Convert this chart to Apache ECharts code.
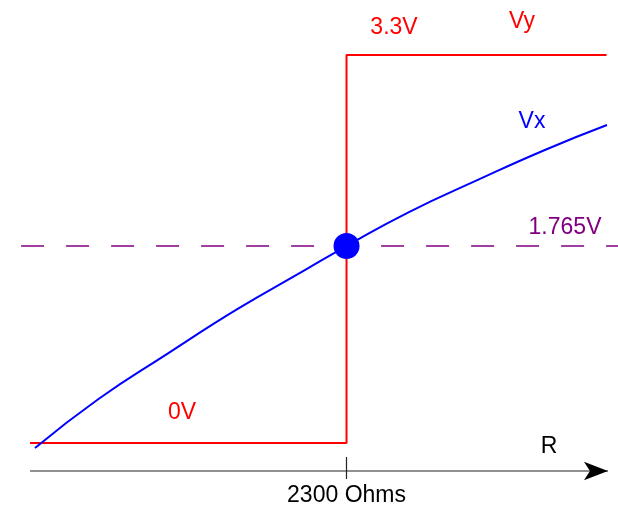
<!DOCTYPE html>
<html>
<head>
<meta charset="utf-8">
<script src="https://cdn.jsdelivr.net/npm/echarts@6/dist/echarts.min.js"></script>
<style>
  html, body { margin: 0; padding: 0; background: #fff; }
  #chart { width: 618px; height: 509px; }
</style>
</head>
<body>
<div id="chart"></div>
<script>
// resistance R (ohms) vs voltage (V)
var thresholdR = 2300;
var threshV = 1.675;
var axisV = -0.238;
var axisR = [0, 4200];

// Vy: step output
var vyR = [0, 2300, 2300, 4190];
var vyV = [0, 0, 3.3, 3.3];

// Vx: divider curve
var vxR = [36, 500, 1000, 1500, 2000, 2300, 2750, 3250, 3750, 4193];
var vxV = [-0.043, 0.376, 0.760, 1.134, 1.472, 1.675, 1.962, 2.235, 2.496, 2.704];

// dashed threshold level
var threshR = [-65, 4273];

// text labels and where they sit (data coords)
var labelText = ['3.3V', 'Vy', 'Vx', '1.765V', '0V', 'R'];
var labelR = [2645, 3575, 3648, 3888, 1105, 3772];
var labelV = [3.53, 3.58, 2.73, 1.83, 0.255, -0.03];
var labelColor = ['#ff0000', '#ff0000', '#0000ff', '#800080', '#ff0000', '#000000'];

function pairs(xs, ys) {
  return xs.map(function (x, i) { return [x, ys[i]]; });
}

var chart = echarts.init(document.getElementById('chart'));
var font = 'Liberation Sans, Arial, sans-serif';

var option = {
  animation: false,
  grid: { left: 20, right: 0, top: 0, bottom: 38 },
  xAxis: [
    {
      type: 'value',
      min: -73,
      max: 4273,
      splitLine: { show: false },
      axisLine: { show: false, onZero: false },
      axisTick: {
        show: true,
        customValues: [thresholdR],
        length: 8,
        lineStyle: { color: '#222', width: 1.2 }
      },
      axisLabel: {
        show: true,
        customValues: [thresholdR],
        formatter: function (v) { return v + ' Ohms'; },
        margin: 13,
        fontSize: 23,
        color: '#000',
        fontFamily: font
      }
    },
    {
      type: 'value',
      position: 'bottom',
      min: -73,
      max: 4273,
      splitLine: { show: false },
      axisLine: { show: false, onZero: false },
      axisLabel: { show: false },
      axisTick: {
        show: true,
        inside: true,
        customValues: [thresholdR],
        length: 14,
        lineStyle: { color: '#222', width: 1.2 }
      }
    }
  ],
  yAxis: {
    type: 'value',
    min: axisV,
    max: 3.767,
    show: false,
    splitLine: { show: false }
  },
  series: [
    {
      name: 'axis',
      type: 'line',
      clip: false,
      symbol: 'none',
      data: pairs(axisR, [axisV, axisV]),
      lineStyle: { color: '#222', width: 1.2 },
      markLine: {
        silent: true,
        symbol: ['none', 'arrow'],
        symbolSize: [14, 24],
        label: { show: false },
        lineStyle: { color: '#000', width: 0, type: 'solid' },
        itemStyle: { color: '#000' },
        data: [[{ coord: [axisR[0], axisV] }, { coord: [axisR[1], axisV] }]]
      },
      z: 1
    },
    {
      name: 'threshold',
      type: 'line',
      clip: false,
      symbol: 'none',
      data: pairs(threshR, [threshV, threshV]),
      lineStyle: { color: '#800080', width: 1.5, type: [23, 22] },
      z: 1
    },
    {
      name: 'Vy',
      type: 'line',
      symbol: 'none',
      data: pairs(vyR, vyV),
      lineStyle: { color: '#ff0000', width: 2 },
      z: 2
    },
    {
      name: 'Vx',
      type: 'line',
      symbol: 'none',
      smooth: true,
      data: pairs(vxR, vxV),
      lineStyle: { color: '#0000ff', width: 2 },
      z: 3
    },
    {
      name: 'crossing',
      type: 'scatter',
      symbol: 'circle',
      symbolSize: 26,
      data: [[thresholdR, threshV]],
      itemStyle: { color: '#0000ff', opacity: 1 },
      z: 4
    },
    {
      name: 'labels',
      type: 'scatter',
      symbolSize: 0,
      clip: false,
      itemStyle: { opacity: 1 },
      data: labelText.map(function (t, i) {
        return {
          name: t,
          value: [labelR[i], labelV[i]],
          label: { color: labelColor[i] }
        };
      }),
      label: {
        show: true,
        position: 'inside',
        formatter: '{b}',
        fontSize: 23,
        fontFamily: font
      },
      z: 5
    }
  ]
};
chart.setOption(option);
</script>
</body>
</html>
